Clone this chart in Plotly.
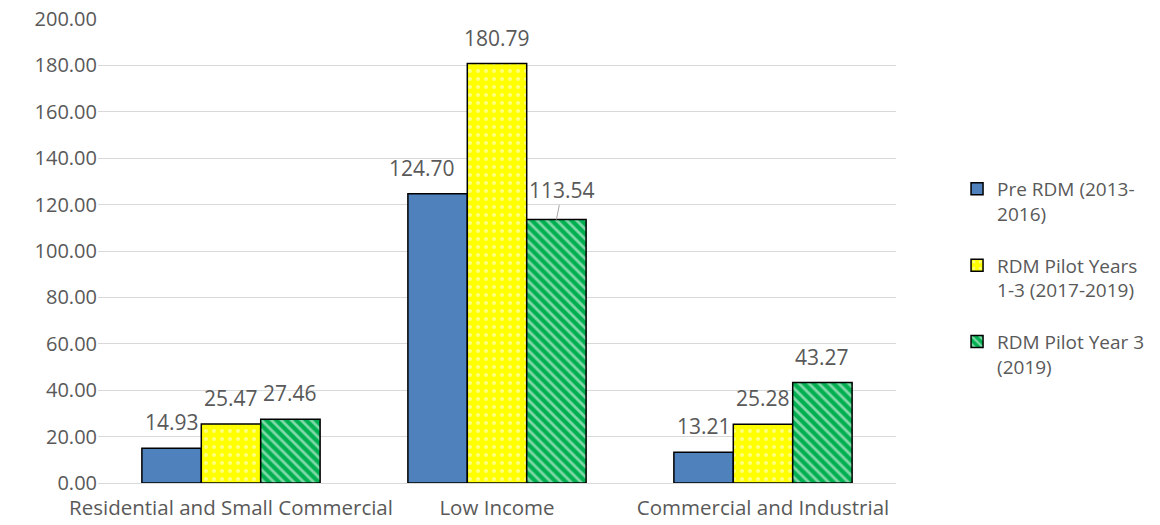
import plotly.graph_objects as go

# Categories and series values
categories = ["Residential and Small Commercial", "Low Income", "Commercial and Industrial"]
series_names = ["Pre RDM (2013-<br>2016)", "RDM Pilot Years<br>1-3 (2017-2019)", "RDM Pilot Year 3<br>(2019)"]
pre_rdm = [14.93, 124.70, 13.21]
pilot_years_1_3 = [25.47, 180.79, 25.28]
pilot_year_3 = [27.46, 113.54, 43.27]

TEXT = "#595959"
GRID = "#d9d9d9"
FONT = "Open Sans"
BARGAP = 0.33

fig = go.Figure()

fig.add_trace(go.Bar(
    name=series_names[0], x=categories, y=pre_rdm,
    marker=dict(color="#4F81BD", line=dict(color="black", width=1.5)),
    legendgroup="a",
))

fig.add_trace(go.Bar(
    name=series_names[1], x=categories, y=pilot_years_1_3,
    marker=dict(color="#FFFF00", line=dict(color="black", width=1.5),
                pattern=dict(shape=".", fgcolor="white", bgcolor="#FFFF00",
                             fillmode="overlay", size=8, solidity=0.2)),
    legendgroup="b",
))

fig.add_trace(go.Bar(
    name=series_names[2], x=categories, y=pilot_year_3,
    marker=dict(color="#00B050", line=dict(color="black", width=1.5),
                pattern=dict(shape="\\", fgcolor="white", bgcolor="#00B050",
                             fillmode="overlay", size=7, solidity=0.4)),
    legendgroup="c",
))

# Value labels above each bar (annotations so they keep full size)
bar_w = (1 - BARGAP) / 3
label_font = dict(family=FONT, size=21, color=TEXT)
for s, values in enumerate([pre_rdm, pilot_years_1_3, pilot_year_3]):
    offset = (s - 1) * bar_w
    for i, (cat, v) in enumerate(zip(categories, values)):
        if s == 2 and cat == "Low Income":
            # this label sits higher, joined to its bar by a leader line
            fig.add_annotation(
                x=i + offset, y=v, xref="x", yref="y",
                text=f"{v:.2f}", showarrow=True, arrowhead=0,
                arrowcolor="#a6a6a6", arrowwidth=1, ax=6, ay=-30,
                font=label_font,
            )
        else:
            # the tall Low Income pre-RDM label is nudged left off the next bar
            nudge = -16 if (s == 0 and cat == "Low Income") else 0
            fig.add_annotation(
                x=i + offset, y=v, xref="x", yref="y",
                text=f"{v:.2f}", showarrow=False,
                xanchor="center", yanchor="bottom", yshift=10, xshift=nudge,
                font=label_font,
            )

fig.update_layout(
    width=1160, height=525,
    margin=dict(l=98, r=264, t=19, b=42, autoexpand=False),
    paper_bgcolor="white", plot_bgcolor="white",
    barmode="group", bargap=BARGAP, bargroupgap=0,
    font=dict(family=FONT, color=TEXT, size=20),
    showlegend=True,
    legend=dict(x=1.0765, y=0.442, xanchor="left", yanchor="middle",
                valign="top",
                font=dict(family=FONT, size=19, color=TEXT),
                tracegroupgap=24, traceorder="grouped"),
)

fig.update_xaxes(showline=True, linecolor=GRID, linewidth=1, ticks="",
                 automargin=False, ticklabelstandoff=6,
                 tickfont=dict(family=FONT, size=20.5, color=TEXT))
fig.update_yaxes(range=[0, 200], dtick=20, tickformat=".2f", showgrid=True,
                 gridcolor=GRID, gridwidth=1, zeroline=False, ticks="",
                 automargin=False,
                 tickfont=dict(family=FONT, size=20, color=TEXT))
fig.update_traces(cliponaxis=False, selector=dict(type="bar"))

fig.write_html("out.html")
